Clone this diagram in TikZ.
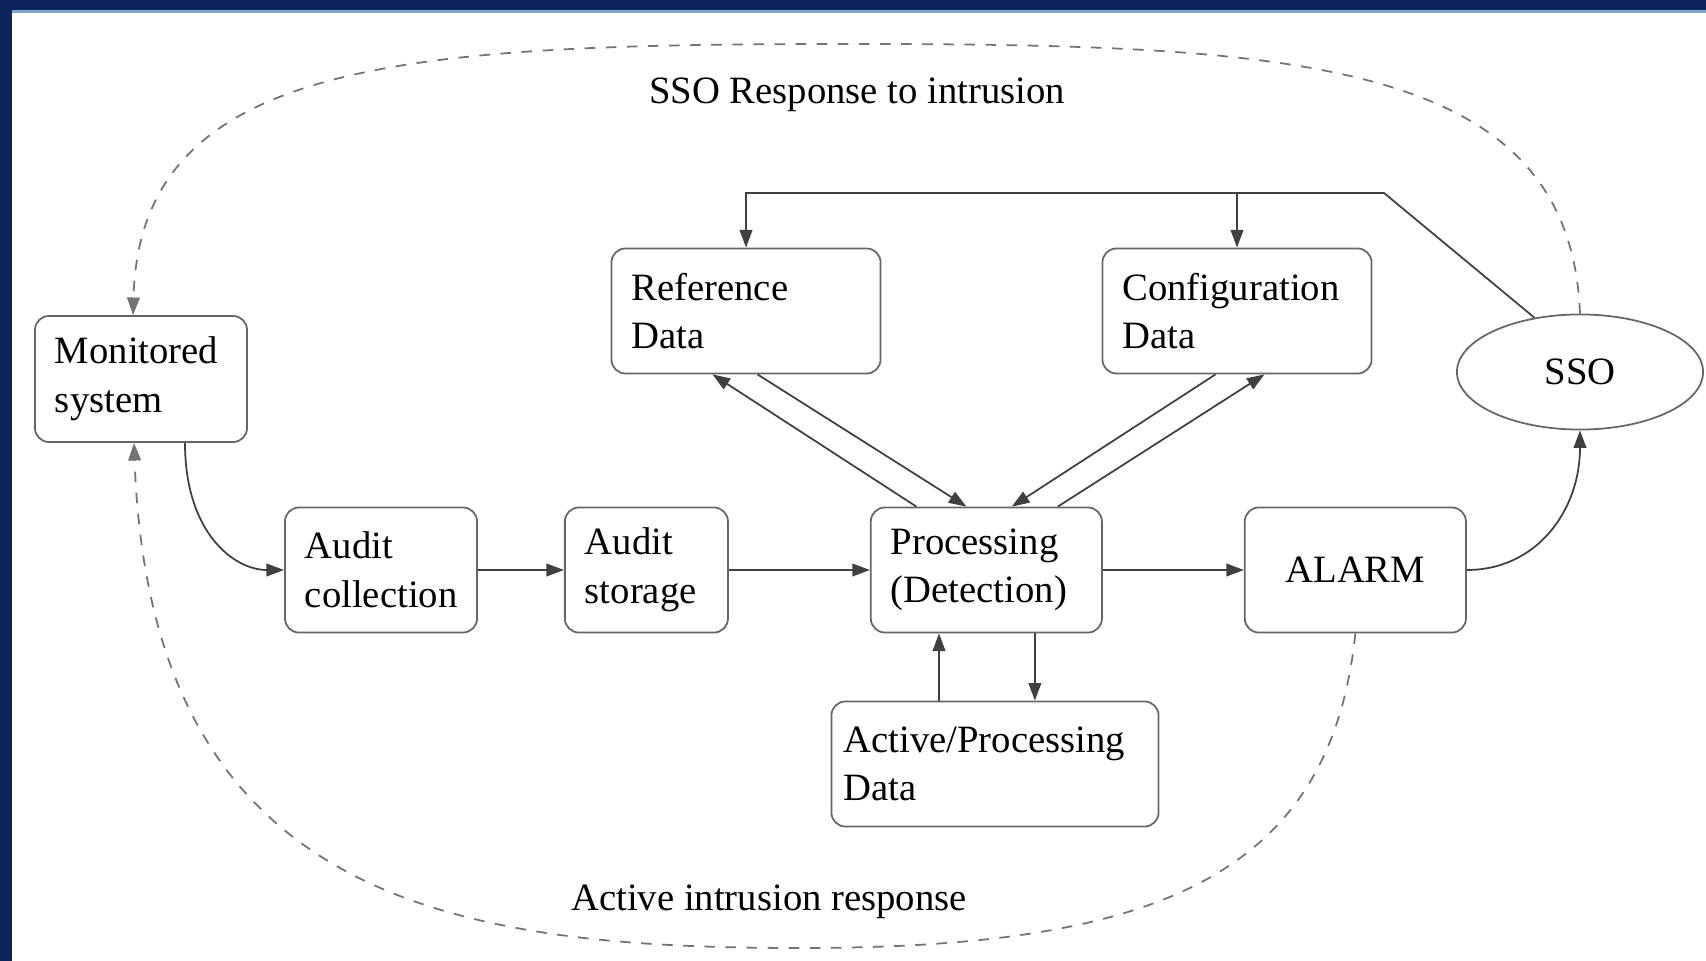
\documentclass[tikz,border=0pt]{standalone}
\usepackage{fontspec}
\setmainfont{Liberation Serif}
\usetikzlibrary{shapes.geometric,arrows.meta,positioning,calc}
\definecolor{framenavy}{RGB}{14,36,92}
\definecolor{framelight}{RGB}{132,160,206}

\begin{document}
\begin{tikzpicture}[
        x=0.01cm, y=-0.01cm,
        font=\fontsize{11}{13.8}\selectfont,
        block/.style={rectangle, rounded corners=4pt, draw=black!60, line width=0.5pt,
            minimum height=1.25cm, inner xsep=0.2cm, align=left},
        flow/.style={-{Triangle[length=5pt,width=3.6pt]}, draw=black!75, line width=0.5pt},
        resp/.style={flow, draw=black!55, dash pattern=on 3pt off 3pt},
        resp_label/.style={inner sep=1pt}
    ]
    \useasboundingbox (0,0) rectangle (1706,961);
    % screen frame
    \fill[white] (0,0) rectangle (1706,961);
    \fill[framenavy] (0,0) rectangle (1706,10);
    \fill[framelight] (12,10) rectangle (1706,13);
    \fill[framenavy] (0,0) rectangle (12,961);

    % Blocks
    \node[block, text width=1.72cm, minimum width=2.12cm, minimum height=1.26cm] (mon) at (141,379) {Monitored\\system};
    \node[block, text width=1.52cm, minimum width=1.92cm] (audcol) at (381,570) {Audit\\collection};
    \node[block, text width=1.23cm, minimum width=1.63cm, right=0.86cm of audcol] (audsto) {Audit\\storage};
    \node[block, text width=1.91cm, minimum width=2.31cm, right=1.41cm of audsto] (proc) {Processing\\(Detection)};
    \node[block, align=center, minimum width=2.21cm, right=1.41cm of proc] (alarm) {ALARM};
    \node[block, text width=2.29cm, minimum width=2.69cm] (ref) at (746,311) {Reference\\Data};
    \node[block, text width=2.29cm, minimum width=2.69cm] (conf) at (1237,311) {Configuration\\Data};
    \node[block, text width=3.03cm, minimum width=3.27cm, inner xsep=0.12cm] (act) at (995,764) {Active/Processing\\Data};
    \node[ellipse, draw=black!60, line width=0.5pt, minimum width=2.46cm, minimum height=1.15cm] (sso) at (1580,372) {SSO};

    % Main flow
    \draw[flow] ($(mon.south)+(44,0)$) .. controls +(0,90) and +(-50,0) .. (audcol.west);
    \draw[flow] (audcol) -- (audsto);
    \draw[flow] (audsto) -- (proc);
    \draw[flow] (proc) -- (alarm);
    \draw[flow] (alarm.east) .. controls +(70,0) and +(0,80) .. (sso.south);

    % Data exchange with detection
    \draw[flow] ($(proc.north)+(-70,0)$) -- ($(ref.south)+(-33.5,0)$);
    \draw[flow] ($(ref.south)+(11.5,0)$) -- ($(proc.north)+(-20,0)$);
    \draw[flow] ($(conf.south)+(-21.5,0)$) -- ($(proc.north)+(25.5,0)$);
    \draw[flow] ($(proc.north)+(71.5,0)$) -- ($(conf.south)+(27.5,0)$);
    \draw[flow] ($(act.north)+(-56,0)$) coordinate (up) -- (up |- proc.south);
    \draw[flow] ($(proc.south)+(48.5,0)$) coordinate (dn) -- (dn |- act.north);

    % SSO settings
    \coordinate (feed) at (1384,193);
    \draw[flow] (sso.130) -- (feed) -- (feed -| ref.north) -- (ref.north);
    \draw[flow] (feed -| conf.north) -- (conf.north);

    % Responses
    \draw[resp] (sso.north) .. controls (1570,60) and (1300,44) .. (850,44)
        .. controls (400,44) and (140,60) .. ($(mon.north)+(-8,0)$);
    \draw[resp] (alarm.south) .. controls (1330,880) and (1150,948) .. (800,948)
        .. controls (450,948) and (150,900) .. ($(mon.south)+(-7,0)$);
    \node[resp_label] (ssoresp) at (857,95) {SSO Response to intrusion};
    \node[resp_label] (actresp) at (769,902) {Active intrusion response};
\end{tikzpicture}
\end{document}
